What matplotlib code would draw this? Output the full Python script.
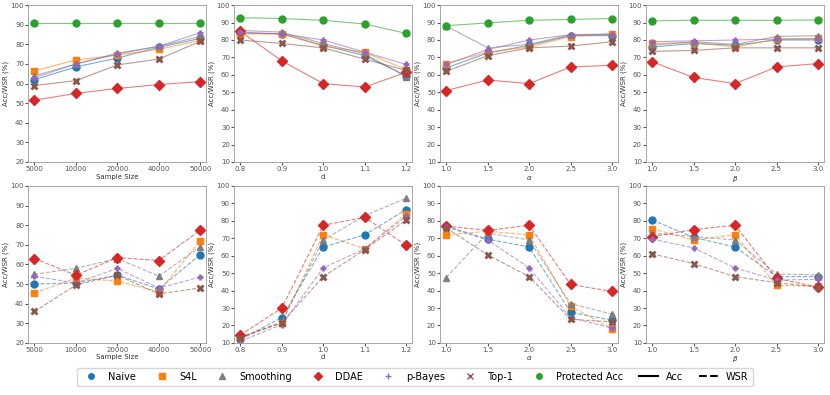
import matplotlib.pyplot as plt
from matplotlib.lines import Line2D

methods = ['Naive', 'S4L', 'Smoothing', 'DDAE', 'p-Bayes', 'Top-1']
colors = ['tab:blue', 'tab:orange', 'tab:gray', 'tab:red', 'tab:purple', 'tab:brown']
markers = ['o', 's', '^', 'D', '+', 'x']

sample_sizes = [5000, 10000, 20000, 40000, 50000]
d_vals = [0.8, 0.9, 1.0, 1.1, 1.2]
alpha_vals = [1.0, 1.5, 2.0, 2.5, 3.0]
beta_vals = [1.0, 1.5, 2.0, 2.5, 3.0]

# Acc (top row) per method, in order of `methods`
acc_size = [[62, 68.5, 73, 78.5, 83],
            [66.5, 72, 74.5, 77.5, 82],
            [64, 70, 75.5, 79, 84],
            [51.5, 55, 57.5, 59.5, 61],
            [63, 70, 75, 79, 86],
            [59, 61.5, 69.5, 72.5, 81.5]]
acc_d = [[84, 83.5, 77, 71, 59.5],
         [83.5, 83.5, 76.5, 73, 63],
         [85.5, 84.5, 78, 72, 59],
         [85, 68, 55, 53, 61.5],
         [84.5, 83.5, 80, 73, 66],
         [80, 78, 75.5, 69, 62.5]]
acc_alpha = [[64, 72.5, 77, 82.5, 82.5],
             [66.5, 73, 76, 82, 83.5],
             [88, 75.5, 77.5, 83, 83.5],
             [51, 57, 55, 64.5, 65.5],
             [66, 74.5, 80, 83, 83],
             [62, 71, 75.5, 76.5, 79]]
acc_beta = [[76, 78, 77, 80, 80],
            [78, 78.5, 76, 80.5, 81],
            [77, 79, 77.5, 82, 82.5],
            [67.5, 58.5, 55, 64.5, 66.5],
            [79, 79.5, 80, 80.5, 80.5],
            [73.5, 74, 75.5, 75.5, 75.5]]

prot_size = [91, 91, 91, 91, 91]
prot_d = [92.8, 92.3, 91.3, 89.2, 83.8]
prot_alpha = [88.2, 89.8, 91.3, 91.8, 92.3]
prot_beta = [91, 91.3, 91.3, 91.3, 91.5]

# WSR (bottom row)
wsr_size = [[50, 50.5, 54.5, 47.5, 65],
            [45.5, 53, 51.5, 46, 72],
            [55, 58, 63, 54, 69],
            [63, 54.5, 63.5, 62, 77.5],
            [54, 50.5, 58, 48, 53.5],
            [36, 49.5, 54.5, 45, 48]]
wsr_d = [[12, 24.5, 65, 72, 86.5],
         [13.5, 21.5, 72, 64, 84],
         [13, 22, 69, 83, 93],
         [14.5, 30, 77.5, 82, 66],
         [11, 20.5, 53, 64, 82.5],
         [13, 21.5, 48, 63.5, 80.5]]
wsr_alpha = [[77, 69.5, 65, 27.5, 23],
             [72, 74, 72, 31, 18],
             [47.5, 73, 69, 32.5, 26.5],
             [77, 74.5, 77.5, 43.5, 39.5],
             [76.5, 69, 53, 24.5, 18.5],
             [76, 60.5, 48, 23.5, 22]]
wsr_beta = [[80.5, 70.5, 65, 48, 48],
            [75.5, 69, 72, 43, 42.5],
            [73, 71, 69, 49.5, 49],
            [71, 75, 77.5, 47, 42],
            [69.5, 64.5, 53, 46, 46.5],
            [61, 55.5, 48, 44.5, 42]]

xs = [sample_sizes, d_vals, alpha_vals, beta_vals]
xlabels = ['Sample Size', 'd', r'$\alpha$', r'$\beta$']
xticklabels = [['5000', '10000', '20000', '40000', '50000'],
               ['0.8', '0.9', '1.0', '1.1', '1.2'],
               ['1.0', '1.5', '2.0', '2.5', '3.0'],
               ['1.0', '1.5', '2.0', '2.5', '3.0']]
acc = [acc_size, acc_d, acc_alpha, acc_beta]
prot = [prot_size, prot_d, prot_alpha, prot_beta]
wsr = [wsr_size, wsr_d, wsr_alpha, wsr_beta]

fig, axes = plt.subplots(2, 4, figsize=(8.3, 3.95), dpi=100)
plt.subplots_adjust(left=0.034, right=0.993, top=0.987, bottom=0.132,
                    wspace=0.155, hspace=0.153)


def draw(ax, x, series, ls):
    pos = list(range(len(x)))
    for vals, c, m in zip(series, colors, markers):
        mew = 2.0 if m in ('+', 'x') else 1
        ax.plot(pos, vals, color=c, ls=ls, lw=0.8, alpha=0.6)
        ax.plot(pos, vals, color=c, ls='none', marker=m, ms=5, mew=mew)


for j in range(4):
    for i, data in enumerate([acc[j], wsr[j]]):
        ax = axes[i, j]
        draw(ax, xs[j], data, '-' if i == 0 else '--')
        if i == 0:
            pos = list(range(5))
            ax.plot(pos, prot[j], color='tab:green', lw=0.8, alpha=0.6)
            ax.plot(pos, prot[j], color='tab:green', ls='none', marker='o', ms=5)
        ax.set_ylim(20 if j == 0 else 10, 100)
        ax.set_xticks(range(5))
        ax.set_xticklabels(xticklabels[j])
        ax.set_xlim(-0.15, 4.15)
        ax.set_xlabel(xlabels[j], fontsize=5, labelpad=1, color='#333')
        ax.set_ylabel('Acc/WSR (%)', fontsize=5, labelpad=1, color='#333')
        ax.tick_params(labelsize=5, length=2, pad=1, colors='#555')
        for s in ax.spines.values():
            s.set_color('#999')
            s.set_linewidth(0.6)

handles = [Line2D([], [], color=c, marker=m, ls='none', ms=4, mew=1)
           for c, m in zip(colors, markers)]
handles.append(Line2D([], [], color='tab:green', marker='o', ls='none', ms=4))
handles.append(Line2D([], [], color='black', ls='-', lw=1.5))
handles.append(Line2D([], [], color='black', ls='--', lw=1.5))
labels = methods + ['Protected Acc', 'Acc', 'WSR']
fig.legend(handles, labels, loc='center', bbox_to_anchor=(0.5, 0.046), ncol=9,
           fontsize=7, frameon=True, handlelength=2.0, columnspacing=1.6,
           borderpad=0.4, handletextpad=0.8, edgecolor='#ccc')

fig.savefig('out.png', dpi=100)
